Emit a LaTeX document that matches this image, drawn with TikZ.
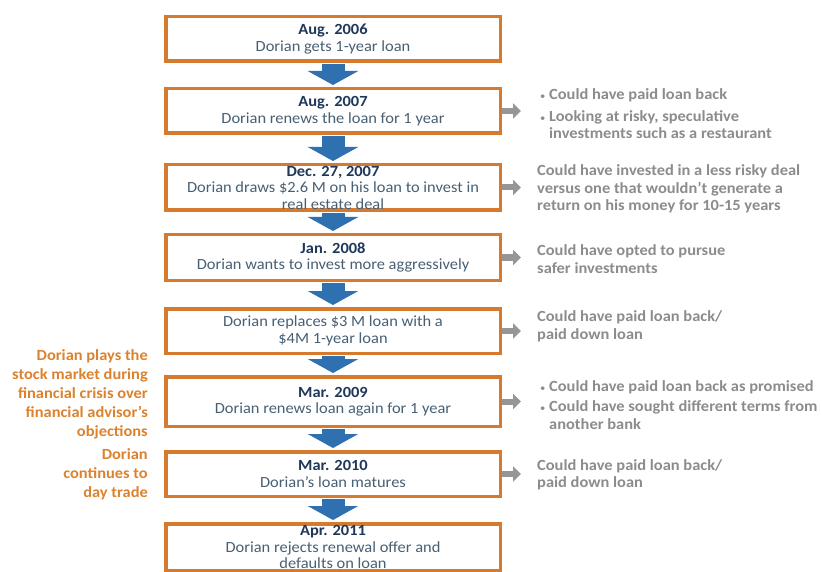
\documentclass[tikz,border=0pt]{standalone}
\usepackage{fontspec}
\setmainfont{Carlito}[FakeStretch=1.06]
\usetikzlibrary{arrows.meta,calc}
\definecolor{boxorange}{RGB}{214,122,46}
\definecolor{titleblue}{RGB}{31,56,90}
\definecolor{bodyblue}{RGB}{72,96,116}
\definecolor{flowblue}{RGB}{46,112,176}
\definecolor{notegray}{RGB}{140,140,140}
\definecolor{arrowgray}{RGB}{150,150,150}
\definecolor{sideorange}{RGB}{220,130,45}
\newcommand{\evtitle}[1]{\textcolor{titleblue}{\textbf{#1}}}
\newcommand{\bul}{\hspace*{3pt}\makebox[9pt][l]{\mdseries\fontsize{10}{10}\selectfont •}}
\newcommand{\bulcont}{\hspace*{12pt}}
\begin{document}
\begin{tikzpicture}[x=1pt,y=-1pt,
 event/.style={draw=boxorange, line width=3.5pt, fill=white, minimum width=334.5pt, inner sep=0pt, align=center, font=\fontsize{15.5}{16.5}\selectfont, text=bodyblue},
 flow/.style={draw=flowblue, line width=23pt, -{Triangle[width=50pt,length=14pt]}, shorten <=1pt, shorten >=2pt},
 hint/.style={draw=arrowgray, line width=6pt, -{Triangle[width=15pt,length=8pt]}},
 note/.style={anchor=west, align=left, inner sep=0pt, font=\bfseries\fontsize{15.5}{17.5}\selectfont, text=notegray},
 side/.style={anchor=east, align=right, inner sep=0pt, font=\bfseries\fontsize{15.5}{19}\selectfont, text=sideorange}]
\useasboundingbox[fill=white] (0,0) rectangle (822,572);

\node[event, minimum height=44.5pt] (b1) at (333,39) {\evtitle{Aug. 2006}\\Dorian gets 1-year loan};
\node[event, minimum height=44.5pt] (b2) at (333,111) {\evtitle{Aug. 2007}\\Dorian renews the loan for 1 year};
\node[event, minimum height=45.5pt] (b3) at (333,187.5) {\evtitle{Dec. 27, 2007}\\Dorian draws \$2.6 M on his loan to invest in\\real estate deal};
\node[event, minimum height=45.5pt] (b4) at (333,257.5) {\evtitle{Jan. 2008}\\Dorian wants to invest more aggressively};
\node[event, minimum height=44.5pt] (b5) at (333,331) {Dorian replaces \$3 M loan with a\\\$4M 1-year loan};
\node[event, minimum height=49.5pt] (b6) at (333,401.5) {\evtitle{Mar. 2009}\\Dorian renews loan again for 1 year};
\node[event, minimum height=44.5pt] (b7) at (333,474) {\evtitle{Mar. 2010}\\Dorian’s loan matures};
\node[event, minimum height=46.5pt] (b8) at (333,547) {\evtitle{Apr. 2011}\\Dorian rejects renewal offer and\\defaults on loan};

\draw[flow] (b1.south) -- (b2.north);
\draw[flow] (b2.south) -- (b3.north);
\draw[flow] (b3.south) -- (b4.north);
\draw[flow] (b4.south) -- (b5.north);
\draw[flow] (b5.south) -- (b6.north);
\draw[flow] (b6.south) -- (b7.north);
\draw[flow] (b7.south) -- (b8.north);

\foreach \i in {2,...,7}{
  \coordinate (e\i) at ($(b\i.east)+(19,0)$);
  \draw[hint] (b\i.east) -- (e\i);
}

\node[note] (n2) at (537,114) {\bul Could have paid loan back\\[4pt]\bul Looking at risky, speculative\\\bulcont investments such as a restaurant};
\node[note] (n3) at (537,189) {Could have invested in a less risky deal\\versus one that wouldn’t generate a\\return on his money for 10-15 years};
\node[note] (n4) at (537,259) {Could have opted to pursue\\safer investments};
\node[note] (n5) at (537,326.5) {Could have paid loan back/\\paid down loan};
\node[note] (n6) at (537,405) {\bul Could have paid loan back as promised\\[3pt]\bul Could have sought different terms from\\\bulcont another bank};
\node[note] (n7) at (537,475) {Could have paid loan back/\\paid down loan};

\node[side] (s1) at (148,394.5) {Dorian plays the\\stock market during\\financial crisis over\\financial advisor’s\\objections};
\node[side] (s2) at (148,474.5) {Dorian\\continues to\\day trade};
\end{tikzpicture}
\end{document}
